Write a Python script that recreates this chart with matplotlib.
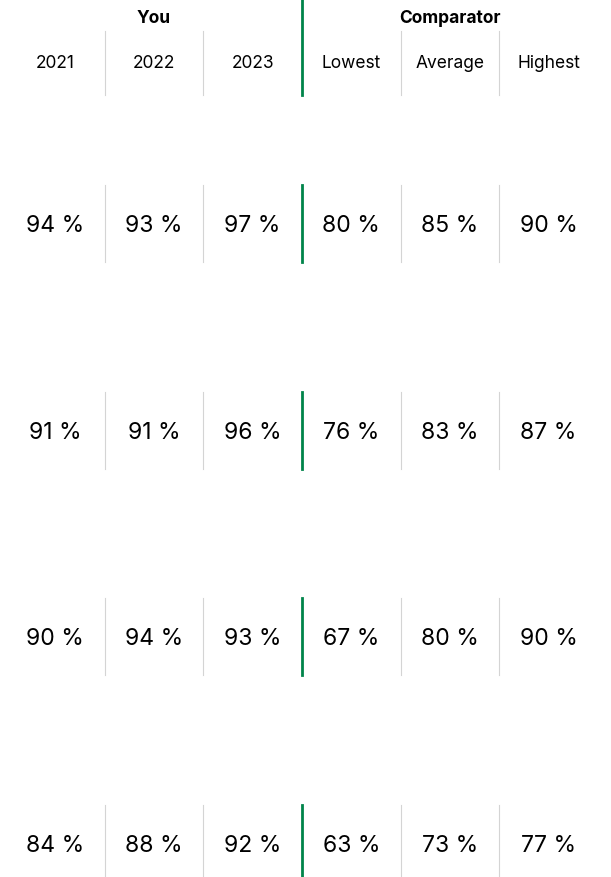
import matplotlib.pyplot as plt

plt.rcParams['font.family'] = ['Inter', 'DejaVu Sans']

# Dados
grupos = ['You', 'Comparator']
colunas = ['2021', '2022', '2023', 'Lowest', 'Average', 'Highest']
linha1 = [94, 93, 97, 80, 85, 90]
linha2 = [91, 91, 96, 76, 83, 87]
linha3 = [90, 94, 93, 67, 80, 90]
linha4 = [84, 88, 92, 63, 73, 77]
linhas = [linha1, linha2, linha3, linha4]

cinza = '#d4d4d4'
verde = '#00844a'

fig = plt.figure(figsize=(6.11, 8.77), dpi=100)
ax = fig.add_axes([6 / 611, 0, 592 / 611, 1])
ax.set_xlim(-0.5, 5.5)
ax.set_ylim(877, 0)
ax.axis('off')

# Cabecalho
ax.text(1, 23, grupos[0], ha='center', va='baseline', fontsize=12.5, fontweight='bold')
ax.text(4, 23, grupos[1], ha='center', va='baseline', fontsize=12.5, fontweight='bold')
for i, c in enumerate(colunas):
    ax.text(i, 68, c, ha='center', va='baseline', fontsize=12.5)
for i in range(1, len(colunas)):
    if i == 3:
        ax.plot([i - 0.5, i - 0.5], [0, 95], color=verde, lw=2)
    else:
        ax.plot([i - 0.5, i - 0.5], [31, 95], color=cinza, lw=0.8)

# Linhas de valores
y0 = 232
passo = 206.7
for r, valores in enumerate(linhas):
    y = y0 + r * passo
    for i, v in enumerate(valores):
        ax.text(i, y, f'{v} %', ha='center', va='baseline', fontsize=16.5)
    for i in range(1, len(valores)):
        if i == 3:
            ax.plot([i - 0.5, i - 0.5], [y - 47, y + 30], color=verde, lw=2)
        else:
            ax.plot([i - 0.5, i - 0.5], [y - 47, y + 30], color=cinza, lw=0.8)

plt.savefig('out.png', dpi=100)
